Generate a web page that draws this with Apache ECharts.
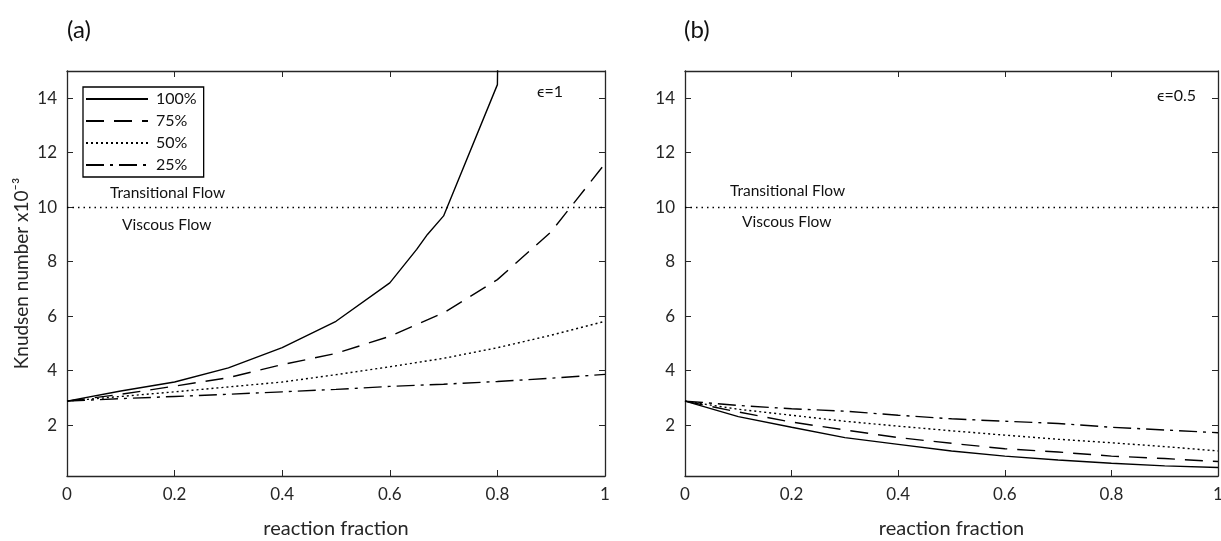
<!DOCTYPE html>
<html lang="en">

<head>
  <meta charset="UTF-8" />
  <script src="https://cdn.jsdelivr.net/npm/echarts@6/dist/echarts.min.js"></script>
  <title>Knudsen number</title>
  <style>
    body { margin: 0; background: #fff; }
  </style>
</head>

<body>
  <div id="main" style="width: 1221px; height: 541px;"></div>
  <script type="text/javascript">
    // x values (reaction fraction)
    var xs = [0, 0.1, 0.2, 0.3, 0.4, 0.5, 0.6, 0.7, 0.8, 0.9, 1.0];
    // panel (a), epsilon = 1 ; 100% curve has its own x points (runs off the top)
    var xsA100 = [0, 0.1, 0.2, 0.3, 0.4, 0.5, 0.6, 0.65, 0.67, 0.7, 0.8, 0.81];
    var a100 = [2.88, 3.25, 3.58, 4.1, 4.84, 5.81, 7.22, 8.45, 9.0, 9.68, 14.5, 30];
    var a75 = [2.88, 3.13, 3.43, 3.74, 4.22, 4.63, 5.26, 6.12, 7.34, 9.1, 11.6];
    var a50 = [2.88, 3.05, 3.22, 3.4, 3.58, 3.85, 4.14, 4.45, 4.84, 5.3, 5.81];
    var a25 = [2.88, 2.97, 3.05, 3.13, 3.22, 3.31, 3.42, 3.5, 3.6, 3.72, 3.86];
    // panel (b), epsilon = 0.5
    var b100 = [2.88, 2.31, 1.92, 1.54, 1.29, 1.05, 0.86, 0.72, 0.6, 0.5, 0.44];
    var b75 = [2.88, 2.48, 2.11, 1.82, 1.54, 1.33, 1.13, 1.01, 0.86, 0.77, 0.66];
    var b50 = [2.88, 2.58, 2.36, 2.14, 1.96, 1.79, 1.63, 1.48, 1.35, 1.21, 1.05];
    var b25 = [2.88, 2.72, 2.6, 2.51, 2.36, 2.23, 2.14, 2.06, 1.92, 1.82, 1.72];

    var names = ["100%", "75%", "50%", "25%"];
    var yTicks = [2, 4, 6, 8, 10, 12, 14];
    var flowLimit = 10;

    var FONT = "Lato";
    var AX = "#262626";
    // dash patterns per series
    var dashes = ["solid", [18, 10], [2, 3], [18, 6, 3, 6]];

    function pairs(x, y) {
      return y.map(function (v, i) { return [x[i], v]; });
    }

    function xAxisCfg(grid, top) {
      return {
        type: "value", gridIndex: grid, min: 0, max: 1, interval: 0.2,
        position: top ? "top" : "bottom",
        name: top ? "" : "reaction fraction",
        nameLocation: "middle", nameGap: 43,
        nameTextStyle: { fontFamily: FONT, fontSize: 20, color: AX },
        axisLine: { show: true, onZero: false, lineStyle: { color: AX, width: 1.3 } },
        axisTick: { show: true, inside: true, length: 6, lineStyle: { color: AX } },
        axisLabel: { show: !top, margin: 10, fontFamily: FONT, fontSize: 17, color: AX },
        splitLine: { show: false }
      };
    }

    function yAxisCfg(grid, right) {
      return {
        type: "value", gridIndex: grid, min: 0.13, max: 15,
        position: right ? "right" : "left",
        name: (grid === 0 && !right) ? "Knudsen number x10⁻³" : "",
        nameLocation: "middle", nameGap: 36,
        nameTextStyle: { fontFamily: FONT, fontSize: 19, color: AX },
        axisLine: { show: true, onZero: false, lineStyle: { color: AX, width: 1.3 } },
        axisTick: { show: true, inside: true, length: 6, customValues: yTicks, lineStyle: { color: AX } },
        axisLabel: { show: !right, margin: 10, customValues: yTicks, fontFamily: FONT, fontSize: 17, color: AX },
        splitLine: { show: false }
      };
    }

    function lineSeries(name, idx, grid, data) {
      return {
        name: name, type: "line", xAxisIndex: grid * 2, yAxisIndex: grid * 2,
        data: data, symbol: "none", clip: true, animation: false,
        itemStyle: { color: "#000" },
        lineStyle: { color: "#000", width: 1.4, type: dashes[idx] }
      };
    }

    var seriesA = [
      lineSeries(names[0], 0, 0, pairs(xsA100, a100)),
      lineSeries(names[1], 1, 0, pairs(xs, a75)),
      lineSeries(names[2], 2, 0, pairs(xs, a50)),
      lineSeries(names[3], 3, 0, pairs(xs, a25))
    ];
    var seriesB = [
      lineSeries(names[0], 0, 1, pairs(xs, b100)),
      lineSeries(names[1], 1, 1, pairs(xs, b75)),
      lineSeries(names[2], 2, 1, pairs(xs, b50)),
      lineSeries(names[3], 3, 1, pairs(xs, b25))
    ];
    // dotted line between viscous and transitional flow
    [seriesA[0], seriesB[0]].forEach(function (s) {
      s.markLine = {
        silent: true, symbol: "none", animation: false,
        label: { show: false },
        lineStyle: { color: "#000", width: 1.3, type: [1.5, 4] },
        data: [{ yAxis: flowLimit }]
      };
    });

    var txt = function (x, y, s, size) {
      return {
        type: "text", x: x, y: y,
        style: { text: s, fontFamily: FONT, fontSize: size, fill: "#111", verticalAlign: "middle" }
      };
    };

    var myChart = echarts.init(document.getElementById("main"));
    myChart.setOption({
      animation: false,
      title: [
        { text: "(a)", left: 62, top: 13, textStyle: { fontFamily: FONT, fontSize: 24, fontWeight: "normal", color: "#111" } },
        { text: "(b)", left: 679, top: 13, textStyle: { fontFamily: FONT, fontSize: 24, fontWeight: "normal", color: "#111" } }
      ],
      grid: [
        { left: 67, right: 616, top: 71, bottom: 65, outerBoundsMode: "none" },
        { left: 685, right: 3, top: 71, bottom: 65, outerBoundsMode: "none" }
      ],
      xAxis: [xAxisCfg(0, false), xAxisCfg(0, true), xAxisCfg(1, false), xAxisCfg(1, true)],
      yAxis: [yAxisCfg(0, false), yAxisCfg(0, true), yAxisCfg(1, false), yAxisCfg(1, true)],
      legend: {
        data: names, orient: "vertical", left: 83, top: 87,
        itemWidth: 62, itemHeight: 14, itemGap: 6,
        padding: [4, 7, 4, 2],
        itemStyle: { opacity: 0 },
        borderColor: "#000", borderWidth: 1.3, backgroundColor: "#fff",
        textStyle: { fontFamily: FONT, fontSize: 16, color: "#111", padding: [0, 0, 0, 3] }
      },
      graphic: [
        txt(110, 193, "Transitional Flow", 15.5),
        txt(122, 225, "Viscous Flow", 15.5),
        txt(730, 191, "Transitional Flow", 15.5),
        txt(742, 222, "Viscous Flow", 15.5),
        txt(537, 92, "ϵ=1", 16),
        txt(1157, 96, "ϵ=0.5", 16)
      ],
      series: seriesA.concat(seriesB)
    });
  </script>
</body>

</html>
